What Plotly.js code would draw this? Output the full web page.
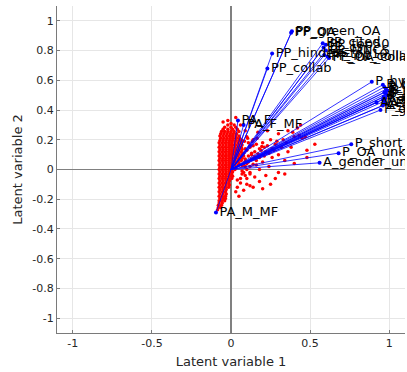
<!DOCTYPE html>
<html><head><meta charset="utf-8">
<script src="https://cdn.plot.ly/plotly-3.0.1.min.js"></script>
<style>html,body{margin:0;padding:0;background:#fff}#plot{width:407px;height:372px}</style>
</head><body><div id="plot"></div>
<script>
// Loadings (endpoint of each vector from the origin)
const loadNames = [
  "PP_OA","PP_green_OA",
  "PP_cited","PP_top50","PP_cs","PP_MNCS","PP_top10","PP_int_collab","PP_OA_collab",
  "PP_hindex","PP_collab",
  "P_hybrid_OA","P_bronze_OA","P_OA","P_gold_OA","P_cited","P_top10","P_top50","P_MNCS",
  "P_collab","P_int_collab","P_green_OA","A_F","A_M","A_MF","A_gold_OA","P_gold",
  "P_short_comm","P_OA_unknown","A_gender_unknown",
  "PA_F","PA_F_MF","PA_M_MF"
];
const loadX = [
  0.38,0.385,
  0.58,0.60,0.585,0.60,0.59,0.61,0.62,
  0.26,0.23,
  0.89,0.96,0.97,0.98,0.99,0.97,0.98,0.99,
  0.965,0.975,0.96,0.97,0.92,0.98,0.96,0.945,
  0.76,0.68,0.56,
  0.044,0.08,-0.095
];
const loadY = [
  0.92,0.93,
  0.85,0.84,0.82,0.80,0.77,0.76,0.75,
  0.78,0.68,
  0.59,0.57,0.555,0.54,0.53,0.52,0.51,0.50,
  0.49,0.48,0.47,0.46,0.45,0.44,0.43,0.40,
  0.17,0.11,0.045,
  0.33,0.30,-0.29
];

// Observation scores, dense core read row by row (y of each row, x values in that row)
const coreRowY = [
  0.30,0.285,0.27,0.255,0.24,0.225,0.21,0.195,0.18,0.165,0.15,0.135,0.12,0.105,0.09,0.075,
  0.06,0.045,0.03,0.015,0.0,-0.015,-0.03,-0.045,-0.06,-0.075,-0.09,-0.105,-0.12,-0.135,
  -0.15,-0.165,-0.18,-0.195,-0.21,-0.225,-0.24,-0.255,-0.27
];
const coreRowX = [
  [-0.02,0.02],
  [-0.04,0.0,0.03],
  [-0.05,-0.02,0.01,0.04],
  [-0.06,-0.04,-0.02,0.0,0.02,0.05],
  [-0.065,-0.045,-0.025,-0.005,0.015,0.035],
  [-0.07,-0.05,-0.03,-0.01,0.01,0.03,0.05],
  [-0.065,-0.045,-0.025,-0.005,0.015,0.035,0.055],
  [-0.07,-0.05,-0.03,-0.01,0.01,0.03,0.05,0.07],
  [-0.075,-0.055,-0.035,-0.015,0.005,0.025,0.045,0.065],
  [-0.07,-0.05,-0.03,-0.01,0.01,0.03,0.05,0.07],
  [-0.075,-0.055,-0.035,-0.015,0.005,0.025,0.045,0.065],
  [-0.07,-0.05,-0.03,-0.01,0.01,0.03,0.05,0.07],
  [-0.075,-0.055,-0.035,-0.015,0.005,0.025,0.045,0.065],
  [-0.07,-0.05,-0.03,-0.01,0.01,0.03,0.05,0.07],
  [-0.075,-0.055,-0.035,-0.015,0.005,0.025,0.045,0.065],
  [-0.07,-0.05,-0.03,-0.01,0.01,0.03,0.05,0.07],
  [-0.075,-0.055,-0.035,-0.015,0.005,0.025,0.045,0.065],
  [-0.07,-0.05,-0.03,-0.01,0.01,0.03,0.05],
  [-0.075,-0.055,-0.035,-0.015,0.005,0.025,0.045],
  [-0.07,-0.05,-0.03,-0.01,0.01,0.03],
  [-0.075,-0.055,-0.035,-0.015,0.005,0.025],
  [-0.07,-0.05,-0.03,-0.01,0.01],
  [-0.075,-0.055,-0.035,-0.015,0.005],
  [-0.07,-0.05,-0.03,-0.01,0.01],
  [-0.075,-0.055,-0.035,-0.015,0.005],
  [-0.07,-0.05,-0.03,-0.01],
  [-0.075,-0.055,-0.035,-0.015],
  [-0.07,-0.05,-0.03,-0.01],
  [-0.075,-0.055,-0.035,-0.015],
  [-0.07,-0.05,-0.03],
  [-0.075,-0.055,-0.035],
  [-0.07,-0.05,-0.03],
  [-0.075,-0.055,-0.035],
  [-0.07,-0.05,-0.035],
  [-0.075,-0.06,-0.04],
  [-0.075,-0.055],
  [-0.08,-0.06],
  [-0.08,-0.065],
  [-0.085]
];
// Scattered scores outside the core
const outerX = [
  0.12,0.15,0.18,0.14,0.10,0.20,0.22,0.25,0.28,0.30,0.33,0.36,0.40,0.42,0.38,0.47,0.53,0.48,0.48,
  0.26,0.30,0.34,0.20,0.16,0.13,0.24,0.12,0.15,0.18,0.22,0.25,0.28,0.10,0.08,0.06,0.14,0.20,0.05,
  0.04,0.30,0.40,0.36,0.09,0.06,-0.02,0.03,0.17,0.23,0.44,0.11,0.09,0.13,0.18,0.07,0.10,0.34,
  0.12,0.43,0.39,0.45,0.09,0.11,0.08,0.10,0.07,0.09,0.06,0.04,0.03,-0.05,0.00,
  0.08,0.10,0.12,0.14,0.16,0.09,0.11,0.13,0.15,0.17,0.19,0.21,0.08,0.10,0.12,0.14,0.16,0.18,
  0.23,0.26,0.29,0.32,0.35,0.21,0.24,0.27,0.08,0.10,0.12,0.06,0.085,0.105,0.135,0.165,0.195,0.07,0.09
];
const outerY = [
  0.16,0.12,0.14,0.20,0.22,0.18,0.12,0.20,0.17,0.24,0.20,0.26,0.22,0.28,0.15,0.22,0.17,0.13,0.08,
  0.08,0.10,0.06,0.05,0.03,0.07,0.02,-0.02,-0.05,-0.08,-0.04,-0.10,-0.06,-0.10,-0.14,-0.06,-0.12,-0.13,-0.18,
  -0.12,-0.02,0.04,0.12,0.26,0.30,0.33,0.35,0.25,0.26,0.30,0.05,0.02,0.10,0.00,-0.03,-0.06,-0.03,
  -0.11,0.23,0.25,0.21,0.14,0.18,0.09,0.04,-0.01,-0.04,-0.09,-0.07,-0.15,0.32,0.31,
  0.11,0.13,0.15,0.16,0.17,0.07,0.09,0.11,0.085,0.105,0.13,0.15,0.03,0.045,0.02,0.035,0.06,0.08,
  0.16,0.14,0.19,0.15,0.18,0.09,0.11,0.13,-0.02,0.00,-0.03,0.20,0.19,0.21,0.19,0.21,0.155,0.025,0.055
];

const tickXv = [-1,-0.5,0,0.5,1];
const tickXt = ["-1","-0.5","0","0.5","1"];
const tickYv = [-1,-0.8,-0.6,-0.4,-0.2,0,0.2,0.4,0.6,0.8,1];
const tickYt = ["-1","-0.8","-0.6","-0.4","-0.2","0","0.2","0.4","0.6","0.8","1"];

const scoreX = [], scoreY = [];
coreRowY.forEach((yv, r) => coreRowX[r].forEach(xv => { scoreX.push(xv); scoreY.push(yv); }));
outerX.forEach((xv, i) => { scoreX.push(xv); scoreY.push(outerY[i]); });

const lx = [], ly = [];
for (let i = 0; i < loadX.length; i++) { lx.push(0, loadX[i], null); ly.push(0, loadY[i], null); }

const FONT = "DejaVu Sans, sans-serif";
const traces = [
  {type:"scatter", mode:"markers", x:scoreX, y:scoreY, hoverinfo:"skip",
   marker:{color:"#ff0000", size:3.5, line:{width:0}}, cliponaxis:true},
  {type:"scatter", mode:"lines", x:lx, y:ly, hoverinfo:"skip",
   line:{color:"#0000ff", width:0.8}},
  {type:"scatter", mode:"markers+text", x:loadX, y:loadY, text:loadNames,
   textposition:"middle right", textfont:{family:FONT, size:13, color:"#000"},
   marker:{color:"#0000ff", size:4}, cliponaxis:true, hoverinfo:"skip"}
];

const axisCommon = {
  range:[-1.1,1.1], showgrid:true, gridcolor:"#e6e6e6", gridwidth:1,
  zeroline:true, zerolinecolor:"#808080", zerolinewidth:1.6,
  showline:true, linecolor:"#7a7a7a", linewidth:1, mirror:false,
  ticks:"inside", ticklen:3, tickcolor:"#7a7a7a",
  tickfont:{family:FONT, size:11, color:"#262626"}, fixedrange:true
};

const layout = {
  width:407, height:372, showlegend:false,
  margin:{l:57, r:2, t:6, b:39},
  paper_bgcolor:"#fff", plot_bgcolor:"#fff",
  xaxis:Object.assign({}, axisCommon, {tickvals:tickXv, ticktext:tickXt,
    title:{text:"Latent variable 1", font:{family:FONT, size:13, color:"#262626"}, standoff:7}}),
  yaxis:Object.assign({}, axisCommon, {tickvals:tickYv, ticktext:tickYt,
    title:{text:"Latent variable 2", font:{family:FONT, size:13, color:"#262626"}, standoff:6}})
};

Plotly.newPlot("plot", traces, layout, {staticPlot:true, displayModeBar:false});
</script></body></html>
